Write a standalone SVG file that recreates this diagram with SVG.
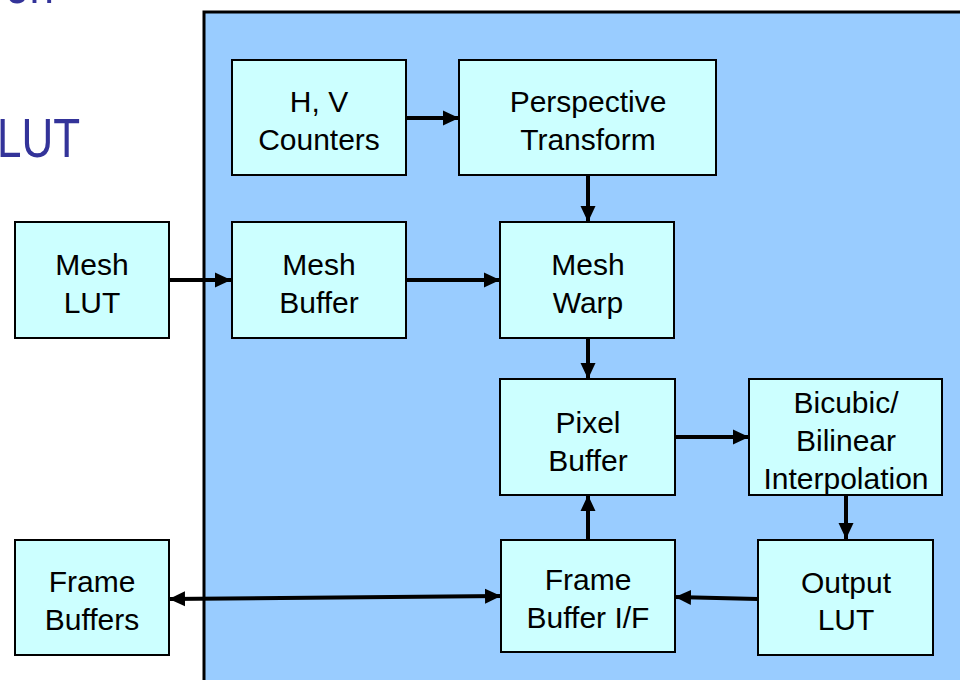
<svg xmlns="http://www.w3.org/2000/svg" width="960" height="680" viewBox="0 0 960 680">
  <style>
    .title { font-family: "Liberation Sans", Arial, sans-serif; font-size: 44px; fill: #333399; }
    .box { fill: #CCFFFF; stroke: #000000; stroke-width: 2; }
    .lbl { font-family: "Liberation Sans", Arial, sans-serif; font-size: 30px; fill: #000000; text-anchor: middle; }
    .wire { stroke: #000000; stroke-width: 4; fill: none; }
  </style>
  <defs>
    <marker id="arrow" markerUnits="userSpaceOnUse" markerWidth="17" markerHeight="17" viewBox="0 0 17 17" refX="16" refY="8.5" orient="auto-start-reverse">
      <path d="M0,1 L16,8.5 L0,16 Z" fill="#000000"/>
    </marker>
  </defs>

  <rect width="960" height="680" fill="#FFFFFF"/>

  <!-- slide title fragments -->
  <text class="title" transform="translate(5,3) scale(1,1.27)">on</text>
  <text class="title" transform="translate(-3,157) scale(1,1.27)">LUT</text>

  <!-- warp engine panel -->
  <rect x="204" y="12" width="780" height="700" fill="#99CCFF" stroke="#000000" stroke-width="3"/>

  <g id="connectors">
    <line class="wire" x1="406" y1="118" x2="459" y2="118" marker-end="url(#arrow)"/>
    <line class="wire" x1="588" y1="175" x2="588" y2="222" marker-end="url(#arrow)"/>
    <line class="wire" x1="169" y1="280" x2="231" y2="280" marker-end="url(#arrow)"/>
    <line class="wire" x1="406" y1="280" x2="500" y2="280" marker-end="url(#arrow)"/>
    <line class="wire" x1="588" y1="338" x2="588" y2="379" marker-end="url(#arrow)"/>
    <line class="wire" x1="675" y1="437" x2="749" y2="437" marker-end="url(#arrow)"/>
    <line class="wire" x1="846" y1="495" x2="846" y2="539" marker-end="url(#arrow)"/>
    <line class="wire" x1="588" y1="539" x2="588" y2="495" marker-end="url(#arrow)"/>
    <line class="wire" x1="758" y1="599" x2="675" y2="597" marker-end="url(#arrow)"/>
    <line class="wire" x1="169" y1="599" x2="501" y2="596" marker-start="url(#arrow)" marker-end="url(#arrow)"/>
  </g>

  <g id="hv-counters">
    <rect class="box" x="232" y="60" width="174" height="115"/>
    <text class="lbl" x="319" y="112">H, V</text>
    <text class="lbl" x="319" y="150">Counters</text>
  </g>
  <g id="perspective-transform">
    <rect class="box" x="459" y="60" width="257" height="115"/>
    <text class="lbl" x="588" y="112">Perspective</text>
    <text class="lbl" x="588" y="150">Transform</text>
  </g>
  <g id="mesh-lut">
    <rect class="box" x="15" y="222" width="154" height="116"/>
    <text class="lbl" x="92" y="275">Mesh</text>
    <text class="lbl" x="92" y="313">LUT</text>
  </g>
  <g id="mesh-buffer">
    <rect class="box" x="232" y="222" width="174" height="116"/>
    <text class="lbl" x="319" y="275">Mesh</text>
    <text class="lbl" x="319" y="313">Buffer</text>
  </g>
  <g id="mesh-warp">
    <rect class="box" x="500" y="222" width="174" height="116"/>
    <text class="lbl" x="588" y="275">Mesh</text>
    <text class="lbl" x="588" y="313">Warp</text>
  </g>
  <g id="pixel-buffer">
    <rect class="box" x="500" y="379" width="175" height="116"/>
    <text class="lbl" x="588" y="433">Pixel</text>
    <text class="lbl" x="588" y="471">Buffer</text>
  </g>
  <g id="interpolation">
    <rect class="box" x="749" y="379" width="193" height="116"/>
    <text class="lbl" x="846" y="413">Bicubic/</text>
    <text class="lbl" x="846" y="451">Bilinear</text>
    <text class="lbl" x="846" y="489">Interpolation</text>
  </g>
  <g id="frame-buffers">
    <rect class="box" x="15" y="540" width="154" height="115"/>
    <text class="lbl" x="92" y="592">Frame</text>
    <text class="lbl" x="92" y="630">Buffers</text>
  </g>
  <g id="frame-buffer-if">
    <rect class="box" x="501" y="540" width="174" height="112"/>
    <text class="lbl" x="588" y="590">Frame</text>
    <text class="lbl" x="588" y="628">Buffer I/F</text>
  </g>
  <g id="output-lut">
    <rect class="box" x="758" y="540" width="175" height="115"/>
    <text class="lbl" x="846" y="593">Output</text>
    <text class="lbl" x="846" y="630">LUT</text>
  </g>
</svg>
